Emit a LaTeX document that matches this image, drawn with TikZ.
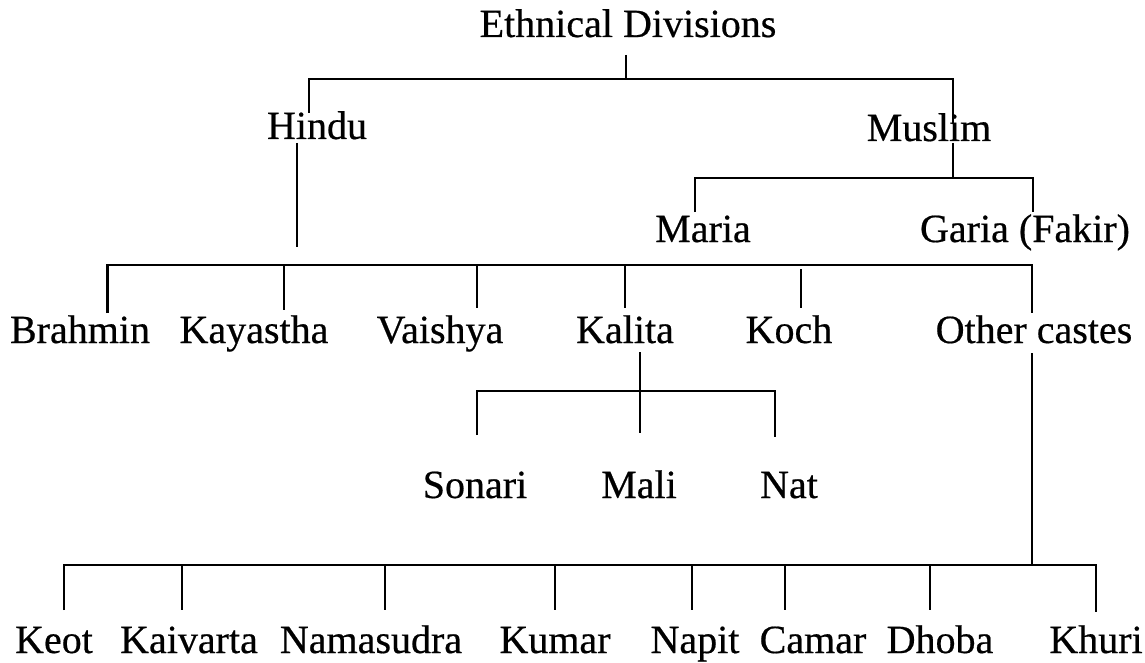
\documentclass[tikz,border=0pt]{standalone}
\usepackage{fontspec}
\setmainfont{Liberation Serif}[FakeBold=0.5]
\begin{document}
\begin{tikzpicture}[x=1pt,y=-1pt,
  lbl/.style={anchor=base,inner sep=0pt,font=\fontsize{40}{48}\selectfont},
  ln/.style={line width=2.4pt}]
\useasboundingbox (0,0) rectangle (1145,663);
% nodes
\node[lbl] (ed) at (628,37) {Ethnical Divisions};
\node[lbl] (hindu) at (317,139) {Hindu};
\node[lbl] (muslim) at (929,141) {Muslim};
\node[lbl] (maria) at (703,242) {Maria};
\node[lbl] (garia) at (1025,242) {Garia (Fakir)};
\node[lbl] (brahmin) at (80,343) {Brahmin};
\node[lbl] (kayastha) at (254,343) {Kayastha};
\node[lbl] (vaishya) at (440,343) {Vaishya};
\node[lbl] (kalita) at (625,343) {Kalita};
\node[lbl] (koch) at (789,343) {Koch};
\node[lbl] (other) at (1034,343) {Other castes};
\node[lbl] (sonari) at (475,498) {Sonari};
\node[lbl] (mali) at (639,498) {Mali};
\node[lbl] (nat) at (789,498) {Nat};
\node[lbl] (keot) at (54,653) {Keot};
\node[lbl] (kaivarta) at (189,653) {Kaivarta};
\node[lbl] (namasudra) at (371,653) {Namasudra};
\node[lbl] (kumar) at (555,653) {Kumar};
\node[lbl] (napit) at (695,653) {Napit};
\node[lbl] (camar) at (813,653) {Camar};
\node[lbl] (dhoba) at (940,653) {Dhoba};
\node[lbl] (khuri) at (1096,653) {Khuri};
% junction coordinates
\coordinate (edb) at (626,55);
\coordinate (edj) at (626,79);
\coordinate (hj) at (309,79);
\coordinate (hn) at (309,113);
\coordinate (mj) at (953,79);
\coordinate (mn) at (953,123);
\coordinate (hs) at (297,143);
\coordinate (he) at (297,247);
\coordinate (ms) at (953,143);
\coordinate (mb) at (953,178);
\coordinate (mal) at (695,178);
\coordinate (mar) at (1033,178);
\coordinate (maran) at (695,212);
\coordinate (garn) at (1033,212);
\coordinate (bl) at (107.5,265);
\coordinate (br) at (1032,265);
\coordinate (brn) at (107.5,313);
\coordinate (kayj) at (284,265);
\coordinate (kayn) at (284,310);
\coordinate (vaij) at (477,265);
\coordinate (vain) at (477,308);
\coordinate (kalj) at (625,265);
\coordinate (kaln) at (625,308);
\coordinate (kocj) at (801,269);
\coordinate (kocn) at (801,308);
\coordinate (othn) at (1032,313);
\coordinate (kals) at (640,352);
\coordinate (kalb) at (640,391);
\coordinate (kbl) at (477,391);
\coordinate (kbr) at (775,391);
\coordinate (sonn) at (477,435);
\coordinate (malin) at (640,433);
\coordinate (natn) at (775,437);
\coordinate (oths) at (1032,353);
\coordinate (ob) at (1032,565);
\coordinate (obl) at (64,565);
\coordinate (obr) at (1096,565);
% connectors
\draw[ln] (edb) -- (edj);
\draw[ln] (hn) -- (hj) -- (mj) -- (mn);
\draw[ln] (hs) -- (he);
\draw[ln] (ms) -- (mb);
\draw[ln] (maran) -- (mal) -- (mar) -- (garn);
\draw[ln] (brn) -- (bl) -- (br) -- (othn);
\draw[ln] (kayj) -- (kayn);
\draw[ln] (vaij) -- (vain);
\draw[ln] (kalj) -- (kaln);
\draw[ln] (kocj) -- (kocn);
\draw[ln] (kals) -- (malin);
\draw[ln] (sonn) -- (kbl) -- (kbr) -- (natn);
\draw[ln] (oths) -- (ob);
\draw[ln] (obl |- 0,610) -- (obl) -- (obr) -- (obr |- 0,612);
\foreach \x/\n in {182/kaiv,385/nama,555/kuma,692/napi,785/cama,930/dhob}{
  \coordinate (\n j) at (\x,565);
  \coordinate (\n n) at (\x,610);
  \draw[ln] (\n j) -- (\n n);
}
\end{tikzpicture}
\end{document}
